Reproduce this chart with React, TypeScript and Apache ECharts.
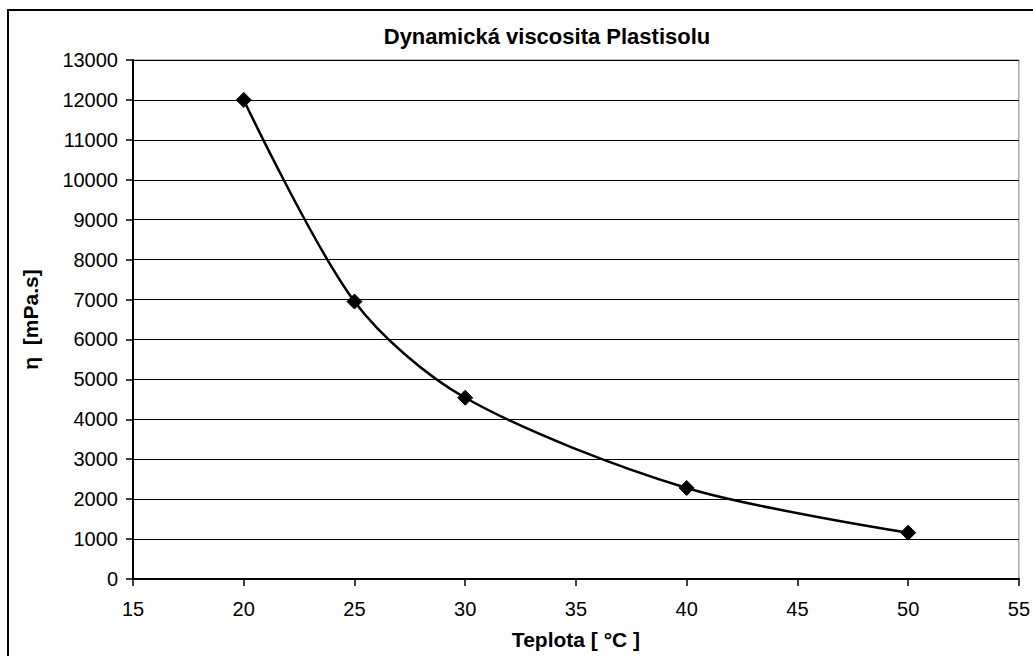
import React, { useEffect, useRef } from "react";
import * as echarts from "echarts";

const temperatures = [20, 25, 30, 40, 50];
const viscosity = [12000, 6950, 4540, 2280, 1160];
const titleText = "Dynamická viscosita Plastisolu";
const xName = "Teplota [ °C ]";
const yName = "η  [mPa.s]";

const FONT = "'Liberation Sans', Arial, sans-serif";

export default function App() {
  const ref = useRef<HTMLDivElement>(null);
  useEffect(() => {
    if (!ref.current) return;
    const chart = echarts.init(ref.current, null, { renderer: "svg" });
    chart.setOption({
      animation: false,
      backgroundColor: "#ffffff",
      textStyle: { fontFamily: FONT },
      title: {
        text: titleText,
        left: 542,
        top: 20,
        textAlign: "center",
        textStyle: { fontFamily: FONT, fontSize: 22, fontWeight: "bold", color: "#000" },
      },
      graphic: [
        {
          type: "rect",
          shape: { x: 8, y: 10, width: 1100, height: 700 },
          style: { fill: "none", stroke: "#000", lineWidth: 2 },
          silent: true,
        },
      ],
      grid: {
        left: 133,
        top: 60,
        right: 6,
        bottom: 77,
        show: true,
        borderColor: "#808080",
        borderWidth: 1,
        backgroundColor: "#fff",
      },
      xAxis: {
        type: "value",
        min: 15,
        max: 55,
        interval: 5,
        name: xName,
        nameLocation: "middle",
        nameGap: 50,
        nameTextStyle: { fontFamily: FONT, fontSize: 21, fontWeight: "bold", color: "#000" },
        axisLine: { show: true, lineStyle: { color: "#000", width: 2 } },
        axisTick: { show: true, inside: false, length: 7, lineStyle: { color: "#000", width: 1.5 } },
        axisLabel: { fontFamily: FONT, fontSize: 20, color: "#000", margin: 20, formatter: (v: number) => String(v) },
        splitLine: { show: false },
      },
      yAxis: {
        type: "value",
        min: 0,
        max: 13000,
        interval: 1000,
        name: yName,
        nameLocation: "middle",
        nameRotate: 90,
        nameGap: 92,
        nameTextStyle: { fontFamily: FONT, fontSize: 21, fontWeight: "bold", color: "#000" },
        axisLine: { show: true, lineStyle: { color: "#000", width: 2 } },
        axisTick: { show: true, inside: false, length: 7, lineStyle: { color: "#000", width: 1.5 } },
        axisLabel: { fontFamily: FONT, fontSize: 20, color: "#000", margin: 15, formatter: (v: number) => String(v) },
        splitLine: { show: true, lineStyle: { color: "#000", width: 1.2 } },
      },
      series: [
        {
          type: "line",
          data: temperatures.map((t, i) => [t, viscosity[i]]),
          smooth: 0.3,
          symbol: "diamond",
          symbolSize: 15,
          showAllSymbol: true,
          lineStyle: { color: "#000", width: 2.5 },
          itemStyle: { color: "#000", borderColor: "#000" },
        },
      ],
    });
    return () => chart.dispose();
  }, []);
  return (
    <div
      ref={ref}
      style={{ position: "fixed", left: 0, top: 0, width: 1033, height: 656 }}
    />
  );
}
